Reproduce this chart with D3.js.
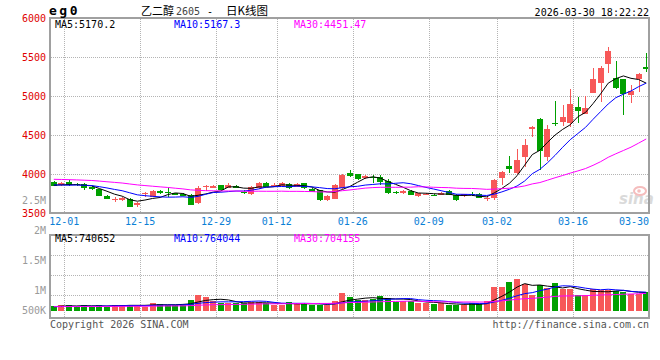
<!DOCTYPE html>
<html>
<head>
<meta charset="utf-8">
<title>eg0 - 日K线图</title>
<script src="https://d3js.org/d3.v7.min.js"></script>
<style>
body { margin: 0; background: #fff; }
svg text { font-family: "DejaVu Sans Mono", monospace; font-size: 10px; }
</style>
</head>
<body>
<div id="chart"></div>
<script>

// ---- data ----
var dates = ["11-28",
  "12-01","12-02","12-03","12-04","12-05","12-08","12-09","12-10","12-11","12-12",
  "12-15","12-16","12-17","12-18","12-19","12-22","12-23","12-24","12-25","12-26",
  "12-29","12-30","12-31",
  "01-05","01-06","01-07","01-08","01-09","01-12","01-13","01-14","01-15","01-16",
  "01-19","01-20","01-21","01-22","01-23","01-26","01-27","01-28","01-29","01-30",
  "02-02","02-03","02-04","02-05","02-06","02-09","02-10","02-11","02-12","02-13",
  "02-24","02-25","02-26","02-27",
  "03-02","03-03","03-04","03-05","03-06","03-09","03-10","03-11","03-12","03-13",
  "03-16","03-17","03-18","03-19","03-20","03-23","03-24","03-25","03-26","03-27","03-30"];

var opens  = [3901,3859,3897,3875,3872,3837,3804,3722,3675,3667,3680,3603,3745,3709,3782,3770,3752,3750,3731,3624,
              3835,3825,3859,3821,3846,3775,3740,3817,3880,3855,3846,3872,3837,3880,3805,3795,3667,3679,3817,4017,
              4000,3955,3965,3965,3914,3765,3753,3782,3720,3735,3735,3731,3782,3731,3718,3745,3740,3676,3689,3953,
              4103,4017,4222,4581,4705,4222,4658,4671,4650,4863,4769,5042,5171,5410,5227,5214,5013,5214,5376];
var highs  = [3914,3900,3923,3890,3880,3845,3810,3730,3705,3700,3690,3638,3775,3790,3790,3830,3760,3760,3745,3840,
              3860,3855,3865,3880,3860,3790,3845,3900,3900,3880,3895,3880,3880,3885,3815,3800,3730,3870,3995,4051,
              4005,3990,3990,3990,3930,3780,3795,3790,3760,3760,3745,3770,3790,3740,3750,3770,3755,3712,3936,4040,
              4231,4321,4449,4609,4720,4628,4936,4885,5086,4991,5000,5355,5389,5632,5449,5220,5141,5299,5547];
var lows   = [3840,3850,3850,3850,3795,3800,3712,3675,3635,3655,3575,3573,3710,3700,3745,3705,3725,3712,3600,3615,
              3780,3820,3790,3815,3815,3740,3735,3810,3830,3840,3840,3810,3830,3805,3765,3660,3650,3675,3810,3965,
              3925,3940,3890,3860,3745,3745,3745,3725,3710,3725,3715,3725,3725,3660,3710,3720,3690,3660,3667,3859,
              4017,4005,4094,4478,4051,4171,4619,4615,4599,4658,4765,5035,4927,5299,5095,4756,4906,5055,5312];
var closes = [3846,3889,3859,3868,3817,3808,3718,3683,3680,3689,3581,3625,3755,3782,3752,3765,3731,3720,3603,3817,
              3850,3850,3795,3863,3821,3765,3837,3889,3837,3862,3880,3817,3872,3817,3775,3667,3718,3859,3987,3974,
              3936,3975,3950,3901,3753,3758,3786,3731,3753,3740,3728,3760,3731,3667,3740,3738,3696,3696,3923,4026,
              4068,4180,4372,4599,4299,4577,4650,4735,4897,4812,4850,5218,5363,5581,5099,5026,5064,5286,5350];
var volumes = [360,390,390,320,390,340,390,340,390,390,390,390,340,450,420,390,390,390,540,690,
               630,510,440,440,440,440,480,480,440,390,390,480,420,450,390,390,390,510,760,630,
               540,540,580,660,600,480,520,510,450,450,420,450,390,390,390,450,420,510,940,940,
               1080,1170,1030,680,990,910,1060,870,870,690,690,870,840,840,810,780,720,720,790]
               .map(function(v) { return v * 1000; });

// closes / volumes before the visible window (needed for the moving averages at the left edge)
var priorCloses = [3950,3935,3960,3930,3925,3945,3940,3920,3935,3950,
                   3980,4010,4030,4005,3990,4020,3985,3975,3990,3985,
                   3900,3880,3850,3845,3850,3860,3845,3870,3854];
var priorVolumes = [330,350,320,360,340,335,345,325,355,340,
                    330,345,350,335,340,325,360,340,330,345,
                    335,340,350,330,345,320,335,340,345].map(function(v) { return v * 1000; });

var priceTicks = [6000, 5500, 5000, 4500, 4000, 3500];
var priceGrid = [5500, 5000, 4500, 4000];
var volTickLabels = ["2.5M", "2M", "1.5M", "1M", "500K"];
var volTickValues = [2500000, 2000000, 1500000, 1000000, 500000];
var volGrid = [1900000, 1300000, 700000];
var dateTicks = ["12-01", "12-15", "12-29", "01-12", "01-26", "02-09", "03-02", "03-16", "03-30"];
var priceMALabels = ["MA5:5170.2", "MA10:5167.3", "MA30:4451.47"];
var volMALabels = ["MA5:740652", "MA10:764044", "MA30:704155"];
var maPeriods = [5, 10, 30];
var maColors = ["#000000", "#0000ff", "#ff00ff"];

var upColor = "#f75858", downColor = "#00a000";

// ---- svg ----
var svg = d3.select("#chart")
	.append("svg")
	.attr("width", 660)
	.attr("height", 360);

var x = d3.scaleBand().domain(dates).range([50, 650]).padding(0);
var yP = d3.scaleLinear().domain([3500, 6000]).range([213, 18]);
var yV = d3.scaleLinear().domain([0, 2500000]).range([318, 234.7]);
// the volume axis labels sit on their own spacing in the original
var yVLabel = d3.scaleLinear().domain([1000000, 2500000]).range([290.7, 200.7]);
var barFloor = 310.7;

function cx(d) { return x(d) + x.bandwidth() / 2; }
function crisp(v) { return Math.round(v) + 0.5; }

function movingAvg(prior, vals, n) {
	var all = prior.concat(vals), off = prior.length;
	return vals.map(function(v, i) {
		var s = 0;
		for (var k = off + i - n + 1; k <= off + i; k++) s += all[k];
		return s / n;
	});
}

// grid lines
var grid = svg.append("g")
	.attr("stroke", "#b4b4b4")
	.attr("stroke-dasharray", "1,1")
	.attr("shape-rendering", "crispEdges");

grid.selectAll("line.hp").data(priceGrid).join("line")
	.attr("x1", 51).attr("x2", 649)
	.attr("y1", d => crisp(yP(d))).attr("y2", d => crisp(yP(d)));

grid.selectAll("line.hv").data(volGrid).join("line")
	.attr("x1", 51).attr("x2", 649)
	.attr("y1", d => crisp(yV(d))).attr("y2", d => crisp(yV(d)));

var vTicks = dateTicks.slice(0, dateTicks.length - 1);
grid.selectAll("line.vp").data(vTicks).join("line")
	.attr("x1", d => crisp(x(d) + x.step() - 1)).attr("x2", d => crisp(x(d) + x.step() - 1))
	.attr("y1", 19).attr("y2", 212);
grid.selectAll("line.vv").data(vTicks).join("line")
	.attr("x1", d => crisp(x(d) + x.step() - 1)).attr("x2", d => crisp(x(d) + x.step() - 1))
	.attr("y1", 236).attr("y2", 317);

// watermark
var logo = svg.append("g").attr("opacity", 0.55);
logo.append("text")
	.attr("x", 619).attr("y", 204)
	.style("font-family", "'DejaVu Sans', sans-serif")
	.style("font-size", "15px").style("font-weight", "bold").style("font-style", "italic")
	.attr("fill", "#bdbdbd")
	.text("sina");
logo.append("ellipse")
	.attr("cx", 640).attr("cy", 191).attr("rx", 6).attr("ry", 4)
	.attr("fill", "none").attr("stroke", "#ee8888").attr("stroke-width", 2);
logo.append("circle")
	.attr("cx", 639).attr("cy", 191).attr("r", 1.8).attr("fill", "#ee8888");

// candles
var candles = svg.append("g").attr("shape-rendering", "crispEdges");
var idx = d3.range(dates.length);

candles.selectAll("line").data(idx).join("line")
	.attr("x1", i => Math.round(cx(dates[i]) - 3) + 3.5)
	.attr("x2", i => Math.round(cx(dates[i]) - 3) + 3.5)
	.attr("y1", i => yP(highs[i]))
	.attr("y2", i => yP(lows[i]))
	.attr("stroke", i => closes[i] >= opens[i] ? upColor : downColor);

candles.selectAll("rect").data(idx).join("rect")
	.attr("x", i => Math.round(cx(dates[i]) - 3))
	.attr("width", 6)
	.attr("y", i => yP(Math.max(opens[i], closes[i])))
	.attr("height", i => Math.max(1, Math.abs(yP(opens[i]) - yP(closes[i]))))
	.attr("fill", i => closes[i] >= opens[i] ? upColor : downColor);

// volume bars
svg.append("g").attr("shape-rendering", "crispEdges")
	.selectAll("rect").data(idx).join("rect")
	.attr("x", i => Math.round(cx(dates[i]) - 3))
	.attr("width", 6)
	.attr("y", i => yV(volumes[i]))
	.attr("height", i => Math.max(0, barFloor - yV(volumes[i])))
	.attr("fill", i => closes[i] >= opens[i] ? upColor : downColor);

// moving average lines
maPeriods.forEach(function(n, k) {
	var pm = movingAvg(priorCloses, closes, n);
	var vm = movingAvg(priorVolumes, volumes, n);
	svg.append("path")
		.datum(pm)
		.attr("fill", "none").attr("stroke", maColors[k]).attr("stroke-width", 1)
		.attr("d", d3.line().x((d, i) => cx(dates[i])).y(d => yP(d)));
	svg.append("path")
		.datum(vm)
		.attr("fill", "none").attr("stroke", maColors[k]).attr("stroke-width", 1)
		.attr("d", d3.line().x((d, i) => cx(dates[i])).y(d => yV(d)));
});

// panel borders
var frame = svg.append("g")
	.attr("fill", "none").attr("stroke", "#a0a0a0").attr("stroke-width", 2)
	.attr("shape-rendering", "crispEdges");
frame.append("rect").attr("x", 50).attr("y", 18).attr("width", 599).attr("height", 195);
frame.append("rect").attr("x", 50).attr("y", 235).attr("width", 599).attr("height", 83);

// price axis labels
svg.append("g").selectAll("text").data(priceTicks).join("text")
	.attr("x", 46)
	.attr("y", d => Math.max(yP(d), 16))
	.attr("dy", "0.35em")
	.attr("text-anchor", "end")
	.attr("fill", "#e00000")
	.text(d => d);

// volume axis labels
svg.append("g").selectAll("text").data(volTickValues).join("text")
	.attr("x", 46)
	.attr("y", d => Math.min(yVLabel(d), 310))
	.attr("dy", "0.35em")
	.attr("text-anchor", "end")
	.attr("fill", "#9a9a9a")
	.text((d, i) => volTickLabels[i]);

// date labels
svg.append("g").selectAll("text").data(dateTicks).join("text")
	.attr("x", (d, i) => i === dateTicks.length - 1 ? 649 : x(d) + x.step() - 1)
	.attr("y", 224.5)
	.attr("text-anchor", (d, i) => i === dateTicks.length - 1 ? "end" : "middle")
	.attr("fill", "#0a80d6")
	.text(d => d);

// MA legends
var legendX = [55, 174, 294];
svg.append("g").selectAll("text").data(priceMALabels).join("text")
	.attr("x", (d, i) => legendX[i]).attr("y", 27.5)
	.attr("fill", (d, i) => maColors[i])
	.text(d => d);
svg.append("g").selectAll("text").data(volMALabels).join("text")
	.attr("x", (d, i) => legendX[i]).attr("y", 242)
	.attr("fill", (d, i) => maColors[i])
	.text(d => d);

// header
svg.append("text").attr("x", 49).attr("y", 14.5)
	.style("font-size", "13px").style("font-weight", "bold").style("letter-spacing", "2.5px")
	.text("eg0");
svg.append("text").attr("x", 141).attr("y", 15)
	.style("font-family", "'Noto Sans CJK SC', sans-serif").style("font-size", "11px")
	.text("乙二醇");
svg.append("text").attr("x", 176).attr("y", 15).attr("fill", "#444").text("2605");
svg.append("text").attr("x", 207).attr("y", 15).text("-");
svg.append("text").attr("x", 226).attr("y", 15)
	.style("font-family", "'Noto Sans CJK SC', sans-serif").style("font-size", "11.5px")
	.text("日K线图");
svg.append("text").attr("x", 649).attr("y", 16).attr("text-anchor", "end")
	.text("2026-03-30 18:22:22");

// footer
svg.append("text").attr("x", 50).attr("y", 327.5).attr("fill", "#555").text("Copyright 2026 SINA.COM");
svg.append("text").attr("x", 649).attr("y", 327.5).attr("text-anchor", "end").attr("fill", "#555")
	.text("http://finance.sina.com.cn");
</script>
</body>
</html>
